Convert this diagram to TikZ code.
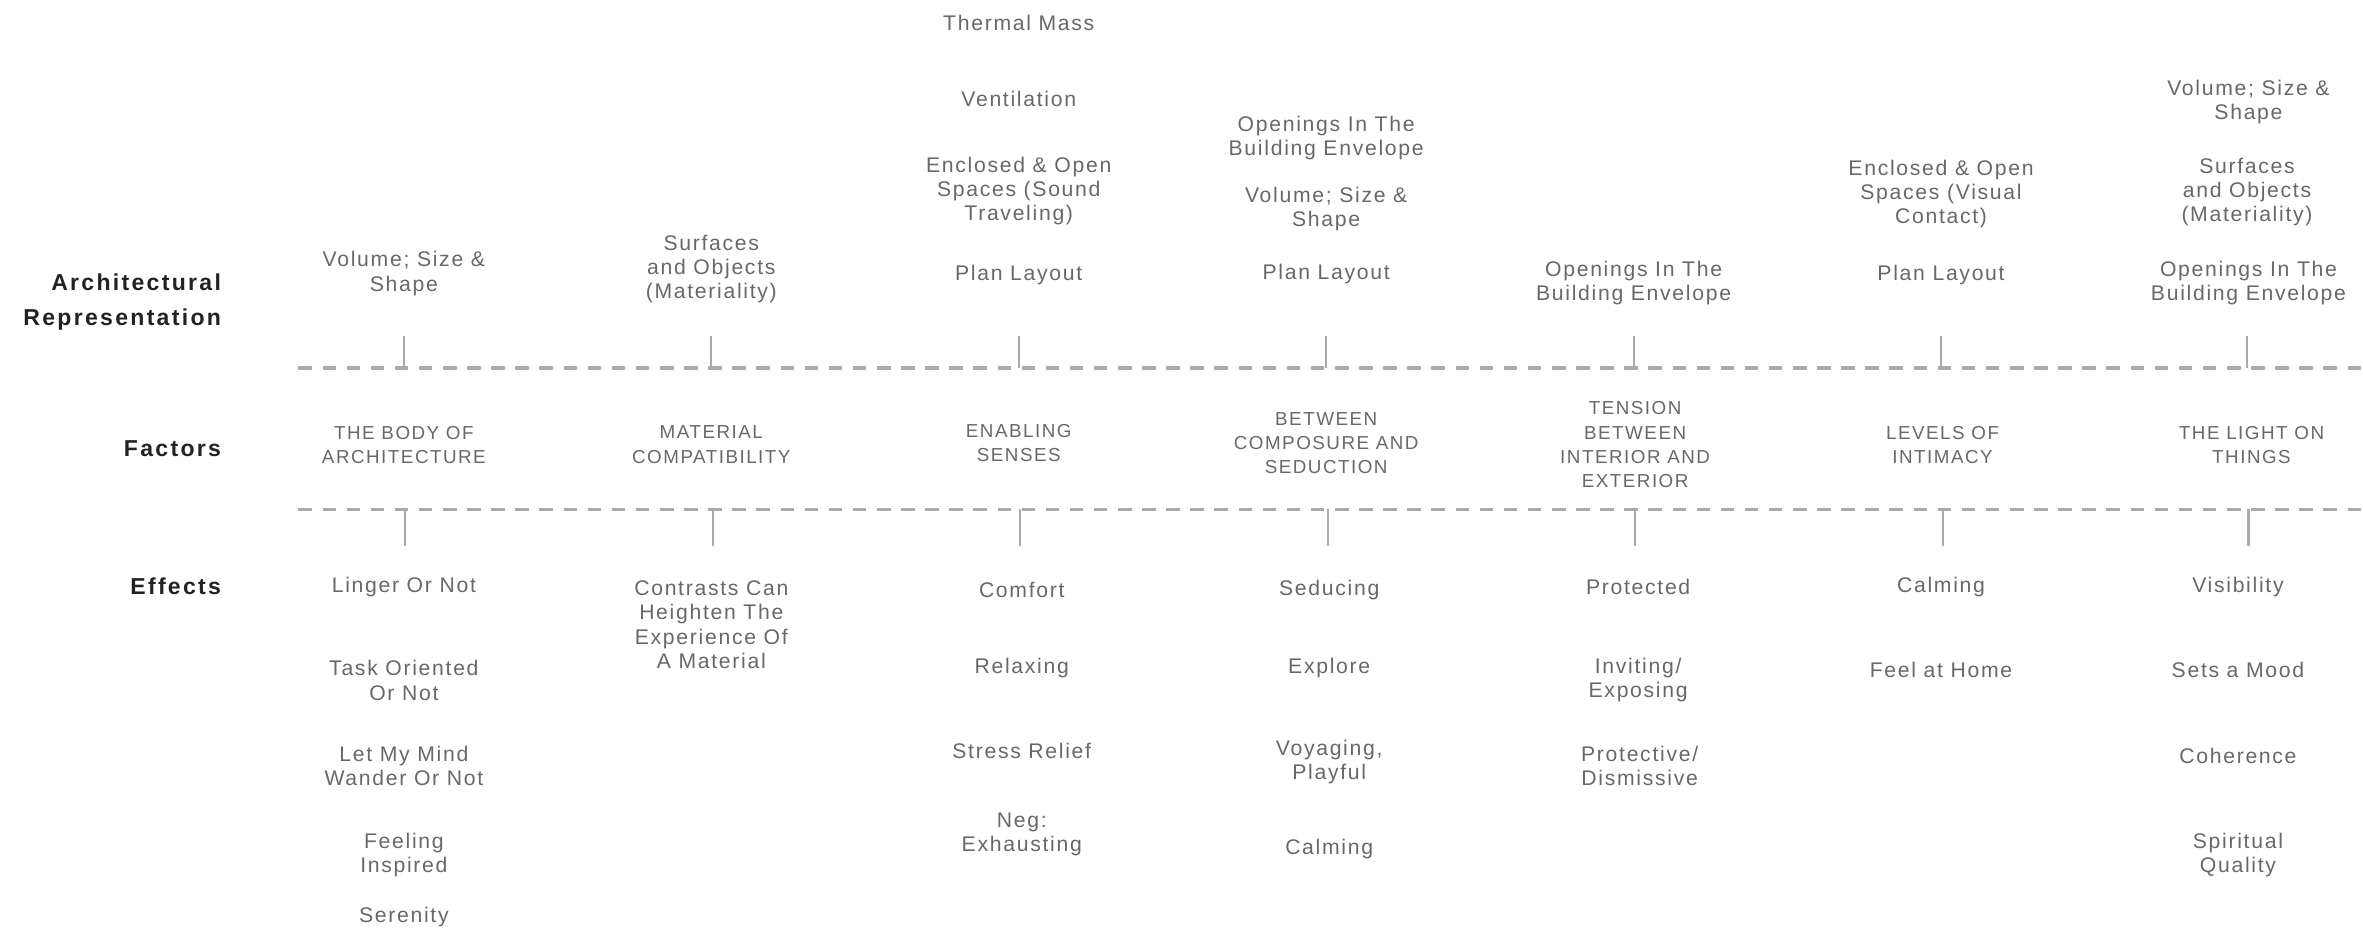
\documentclass[tikz,border=0pt]{standalone}
\usepackage{fontspec}
\setmainfont{Liberation Sans}
\newfontfamily\itemfont{Liberation Sans}[LetterSpace=8]
\newfontfamily\headfont{Liberation Sans}[LetterSpace=10]
\definecolor{txtgray}{HTML}{686868}
\definecolor{headcol}{HTML}{222222}
\definecolor{linegray}{HTML}{ABABA3}
\tikzset{
  item/.style={align=center, inner sep=0pt, yshift=-0.03cm, text=txtgray, font=\itemfont\fontsize{8}{9.1}\selectfont},
  factor/.style={align=center, inner sep=0pt, yshift=-0.02cm, text=txtgray, font=\itemfont\fontsize{7.1}{9.1}\selectfont},
  heading/.style={align=right, anchor=east, inner sep=0pt, yshift=-0.04cm, text=headcol, font=\headfont\bfseries\fontsize{8.7}{13}\selectfont},
  divider/.style={draw=linegray, line width=1.35pt, dash pattern=on 0.18cm off 0.14cm},
  tick/.style={draw=linegray, line width=0.8pt}
}
\begin{document}
\begin{tikzpicture}[x=0.02cm,y=-0.02cm]
\useasboundingbox (0,0) rectangle (1568,618.4);

% headings
\node[heading] (hA) at (147,198.5) {Architectural\\Representation};
\node[heading] (hF) at (147,296) {Factors};
\node[heading] (hE) at (147,387) {Effects};

% dashed dividers
\coordinate (d1s) at (198,244); \coordinate (d1e) at (1568,244);
\coordinate (d2s) at (198,338); \coordinate (d2e) at (1568,338);
\draw[divider] (d1s) -- (d1e);
\draw[divider] (d2s) -- (d2e);

% ticks
\foreach \i/\x in {1/268,2/472,3/676,4/880,5/1084,6/1288,7/1491}{
  \coordinate (ua\i) at (\x,223);
  \coordinate (ub\i) at (\x,244);
  \coordinate (la\i) at (\x+1,338);
  \coordinate (lb\i) at (\x+1,362);
  \draw[tick] (ua\i) -- (ub\i);
  \draw[tick] (la\i) -- (lb\i);
}

% column 1
\node[item] (a11) at (268,180) {Volume; Size \&\\Shape};
\node[factor] (f1) at (268,294) {THE BODY OF\\ARCHITECTURE};
\node[item] (e11) at (268,388) {Linger Or Not};
\node[item] (e12) at (268,450) {Task Oriented\\Or Not};
\node[item] (e13) at (268,507) {Let My Mind\\Wander Or Not};
\node[item] (e14) at (268,566) {Feeling\\Inspired};
\node[item] (e15) at (268,607) {Serenity};

% column 2
\node[item] (a21) at (472,177) {Surfaces\\and Objects\\(Materiality)};
\node[factor] (f2) at (472,294) {MATERIAL\\COMPATIBILITY};
\node[item] (e21) at (472,413) {Contrasts Can\\Heighten The\\Experience Of\\A Material};

% column 3
\node[item] (a31) at (676,14) {Thermal Mass};
\node[item] (a32) at (676,64) {Ventilation};
\node[item] (a33) at (676,125) {Enclosed \& Open\\Spaces (Sound\\Traveling)};
\node[item] (a34) at (676,181) {Plan Layout};
\node[factor] (f3) at (676,293) {ENABLING\\SENSES};
\node[item] (e31) at (678,390) {Comfort};
\node[item] (e32) at (678,442) {Relaxing};
\node[item] (e33) at (678,497) {Stress Relief};
\node[item] (e34) at (678,552) {Neg:\\Exhausting};

% column 4
\node[item] (a41) at (880,90) {Openings In The\\Building Envelope};
\node[item] (a42) at (880,137) {Volume; Size \&\\Shape};
\node[item] (a43) at (880,180) {Plan Layout};
\node[factor] (f4) at (880,293) {BETWEEN\\COMPOSURE AND\\SEDUCTION};
\node[item] (e41) at (882,390) {Seducing};
\node[item] (e42) at (882,442) {Explore};
\node[item] (e43) at (882,504) {Voyaging,\\Playful};
\node[item] (e44) at (882,562) {Calming};

% column 5
\node[item] (a51) at (1084,186) {Openings In The\\Building Envelope};
\node[factor] (f5) at (1085,294) {TENSION\\BETWEEN\\INTERIOR AND\\EXTERIOR};
\node[item] (e51) at (1087,388) {Protected};
\node[item] (e52) at (1087,450) {Inviting/\\Exposing};
\node[item] (e53) at (1088,507) {Protective/\\Dismissive};

% column 6
\node[item] (a61) at (1288,127) {Enclosed \& Open\\Spaces (Visual\\Contact)};
\node[item] (a62) at (1288,181) {Plan Layout};
\node[factor] (f6) at (1289,294) {LEVELS OF\\INTIMACY};
\node[item] (e61) at (1288,388) {Calming};
\node[item] (e62) at (1288,443) {Feel at Home};

% column 7
\node[item] (a71) at (1492,66) {Volume; Size \&\\Shape};
\node[item] (a72) at (1491,126) {Surfaces\\and Objects\\(Materiality)};
\node[item] (a73) at (1492,186) {Openings In The\\Building Envelope};
\node[factor] (f7) at (1494,294) {THE LIGHT ON\\THINGS};
\node[item] (e71) at (1485,388) {Visibility};
\node[item] (e72) at (1485,443) {Sets a Mood};
\node[item] (e73) at (1485,500) {Coherence};
\node[item] (e74) at (1485,566) {Spiritual\\Quality};
\end{tikzpicture}
\end{document}
